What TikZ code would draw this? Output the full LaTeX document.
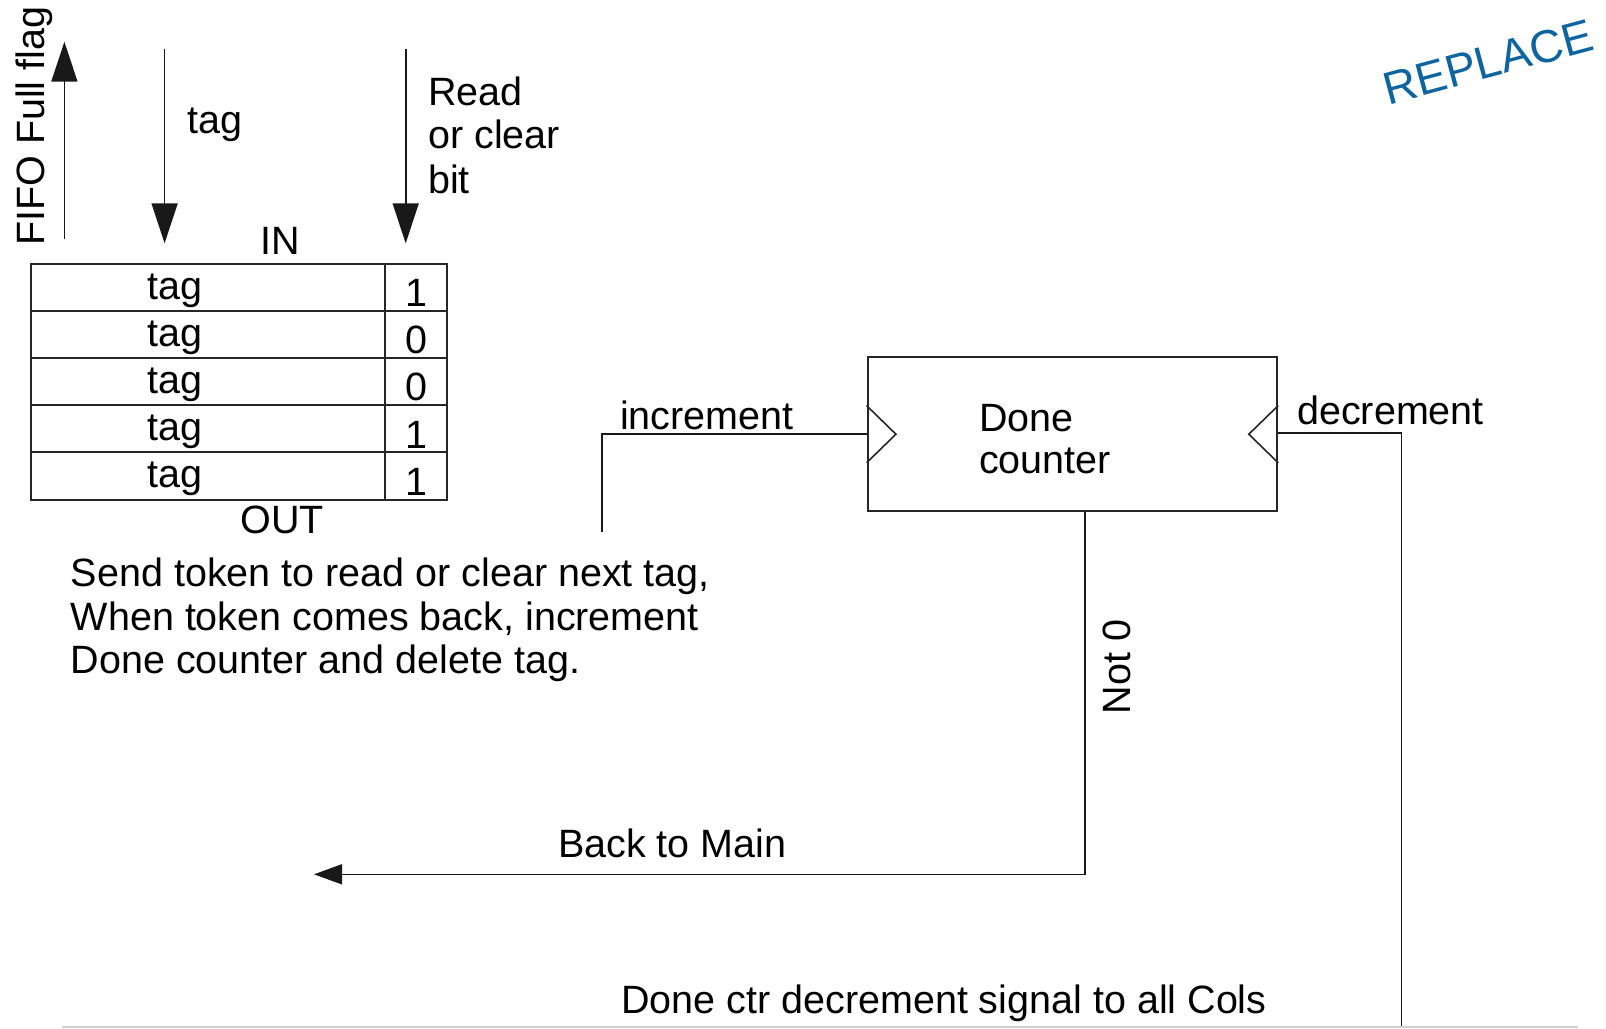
\documentclass[tikz,border=0pt]{standalone}
\usepackage{fontspec}
\setmainfont{Liberation Sans}
\usetikzlibrary{arrows.meta}
\definecolor{replblue}{RGB}{14,100,158}
\begin{document}
\begin{tikzpicture}[x=1pt,y=-1pt,
  txt/.style={inner sep=0pt, anchor=base west, font=\fontsize{39.5}{44}\selectfont},
  ctxt/.style={inner sep=0pt, anchor=base, font=\fontsize{39.5}{44}\selectfont},
  wire/.style={line width=1.6pt, draw=black!90},
  bigarrow/.style={wire, -{Triangle[length=40pt,width=26pt]}},
  smallarrow/.style={wire, -{Triangle[length=28pt,width=20pt]}},
  cellbox/.style={draw=black!85, line width=2pt, inner sep=0pt, minimum height=47.2pt},
  ctrbox/.style={draw=black!85, line width=2pt, inner sep=0pt, minimum width=409.6pt, minimum height=153.7pt}]

\useasboundingbox (0,0) rectangle (1606,1028);

% FIFO table
\foreach \i/\b in {1/1,2/0,3/0,4/1,5/1}{
  \pgfmathsetmacro{\top}{263.5+47.2*(\i-1)}
  \node[cellbox, minimum width=354.3pt] (r\i) at (207.85,\top+23.6) {};
  \node[cellbox, minimum width=61.5pt] (b\i) at (415.75,\top+23.6) {};
  \node[ctxt] (tg\i) at (175,\top+35.5) {tag};
  \node[ctxt] (d\i) at (416,\top+43) {\b};
}
\node[ctxt] (in) at (280,254) {IN};
\node[ctxt] (out) at (282,533) {OUT};

% top arrows
\coordinate (fifoB) at (64.4,238.5);
\coordinate (fifoT) at (64.4,41.7);
\draw[bigarrow] (fifoB) -- (fifoT);
\node[txt, rotate=90] (fifo) at (44,246) {FIFO Full flag};

\coordinate (tagT) at (164.6,49.3);
\coordinate (tagB) at (164.6,243.3);
\draw[bigarrow] (tagT) -- (tagB);
\node[txt] (taglbl) at (187.5,133.3) {tag};

\coordinate (rdT) at (405.7,49.3);
\coordinate (rdB) at (405.7,243.3);
\draw[bigarrow] (rdT) -- (rdB);
\node[txt] (rd1) at (428,105) {Read};
\node[txt] (rd2) at (428,148.3) {or clear};
\node[txt] (rd3) at (428,193.3) {bit};

% explanatory text
\node[txt] (s1) at (70.7,586.7) {Send token to read or clear next tag,};
\node[txt] (s2) at (70.7,630) {When token comes back, increment};
\node[txt] (s3) at (70.7,673.3) {Done counter and delete tag.};

% Done counter
\node[ctrbox] (ctr) at (1072.4,434.2) {};
\node[txt] (dn1) at (979,431.5) {Done};
\node[txt] (dn2) at (979,473.5) {counter};
\draw[line width=1.6pt, draw=black!85] ([yshift=28.6pt]ctr.west) -- ++(29.3,28.6) -- ++(-29.3,28.6);
\draw[line width=1.6pt, draw=black!85] ([yshift=28.6pt]ctr.east) -- ++(-29.4,28.6) -- ++(29.4,28.6);

% increment
\coordinate (incS) at (601.7,532);
\draw[wire] (incS) |- (ctr.west);
\node[txt] (inc) at (620,429.3) {increment};

% decrement
\coordinate (decE) at (1401.6,1028);
\draw[wire] ([yshift=1.5pt]ctr.east) -| (decE);
\node[txt] (dec) at (1297,424.5) {decrement};

% Not 0 / back to main
\coordinate (back) at (314,874.3);
\draw[smallarrow] ([xshift=12.3pt]ctr.south) |- (back);
\node[txt, rotate=90] (not0) at (1130.3,714.5) {Not 0};
\node[txt] (btm) at (558,857) {Back to Main};

\node[txt] (sig) at (621,1013) {Done ctr decrement signal to all Cols};

% bottom rule
\coordinate (ruleL) at (61.5,1027);
\coordinate (ruleR) at (1578,1027);
\draw[line width=2pt, draw=black!18] (ruleL) -- (ruleR);

% REPLACE stamp
\node[inner sep=0pt, rotate=15, text=replblue, font=\fontsize{46}{50}\selectfont] (repl) at (1488,62) {REPLACE};
\end{tikzpicture}
\end{document}
